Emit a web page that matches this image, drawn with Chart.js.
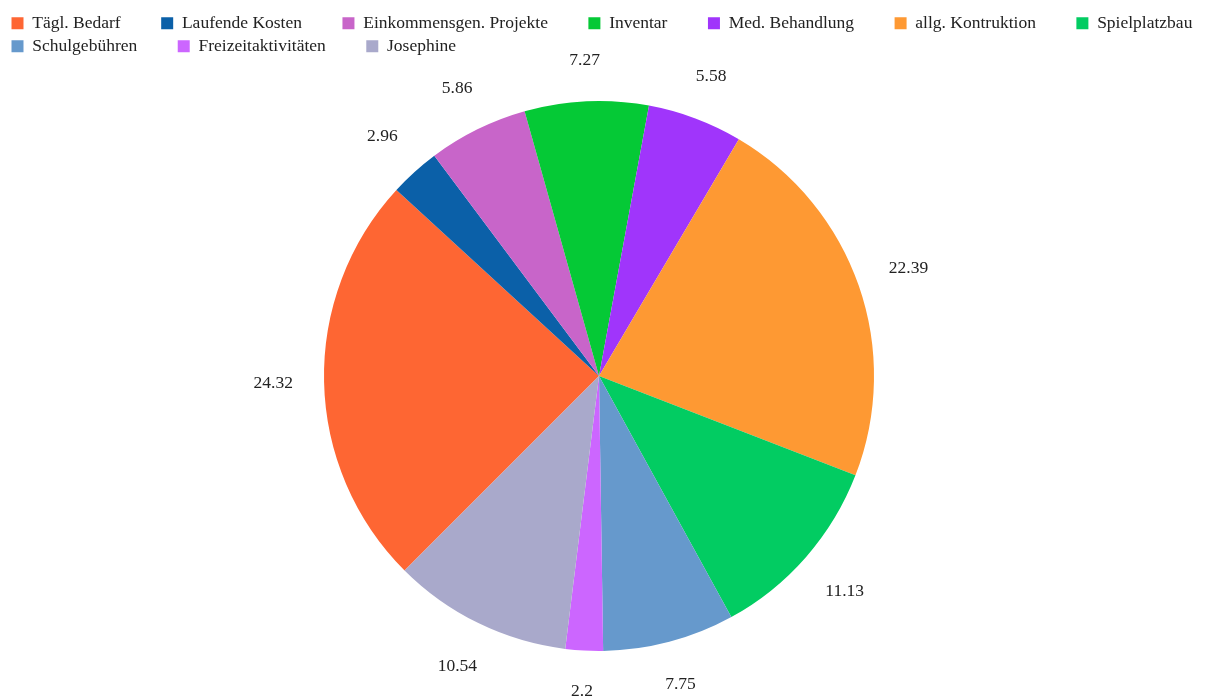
<!DOCTYPE html>
<html>
<head>
<meta charset="utf-8">
<script src="https://cdn.jsdelivr.net/npm/chart.js@4/dist/chart.umd.min.js"></script>
<style>
html,body{margin:0;padding:0;background:#fff;}
#wrap{width:1215px;height:698px;}
</style>
</head>
<body>
<div id="wrap"><canvas id="c" width="1215" height="698"></canvas></div>
<script>
const categories = ["Tägl. Bedarf","Laufende Kosten","Einkommensgen. Projekte","Inventar","Med. Behandlung","allg. Kontruktion","Spielplatzbau","Schulgebühren","Freizeitaktivitäten","Josephine"];
const values = [24.32, 2.96, 5.86, 7.27, 5.58, 22.39, 11.13, 7.75, 2.2, 10.54];
const colors = ["#fe6633","#0b60a8","#c865c9","#05c936","#a035fb","#fe9933","#02cc62","#6699cc","#cc66ff","#a9a9cb"];

const FONT = '"Liberation Serif", "Times New Roman", serif';
const rowEnds = new Set([6, 9]);

const outLabels = {
  id: 'outLabels',
  afterLayout(chart) {
    // keep the pie centred where the reference has it, independent of the legend width
    const a = chart.chartArea;
    a.right = a.right - 23;
    a.width = a.right - a.left;
  },
  afterDatasetsDraw(chart) {
    const ctx = chart.ctx;
    const meta = chart.getDatasetMeta(0);
    ctx.save();
    ctx.font = '17.5px ' + FONT;
    ctx.fillStyle = '#222';
    ctx.textAlign = 'center';
    ctx.textBaseline = 'middle';
    meta.data.forEach((arc, i) => {
      const p = arc.getProps(['x','y','startAngle','endAngle','outerRadius'], true);
      const mid = (p.startAngle + p.endAngle) / 2;
      const cx = Math.cos(mid), sy = Math.sin(mid);
      const text = String(values[i]);
      const hw = ctx.measureText(text).width / 2, hh = 9;
      const d = p.outerRadius + 31 + hw * Math.abs(cx) + hh * Math.abs(sy);
      ctx.fillText(text, p.x + cx * d, p.y + sy * d);
    });
    ctx.restore();
  }
};

new Chart(document.getElementById('c'), {
  type: 'pie',
  data: {
    labels: categories,
    datasets: [{ data: values, backgroundColor: colors, borderWidth: 0 }]
  },
  options: {
    responsive: false,
    devicePixelRatio: 1,
    animation: false,
    rotation: 225,
    radius: 275,
    layout: { padding: { left: 6, right: 0, top: 9, bottom: 11 } },
    plugins: {
      tooltip: { enabled: false },
      legend: {
        position: 'top',
        align: 'start',
        labels: {
          font: { family: FONT, size: 17.5 },
          color: '#222',
          boxWidth: 12,
          boxHeight: 12,
          padding: 5.5,
          generateLabels(chart) {
            const items = Chart.overrides.pie.plugins.legend.labels.generateLabels(chart);
            items.forEach((it, i) => {
              if (!rowEnds.has(i)) it.text = it.text + '        ';
            });
            return items;
          }
        }
      }
    }
  },
  plugins: [outLabels]
});
</script>
</body>
</html>
